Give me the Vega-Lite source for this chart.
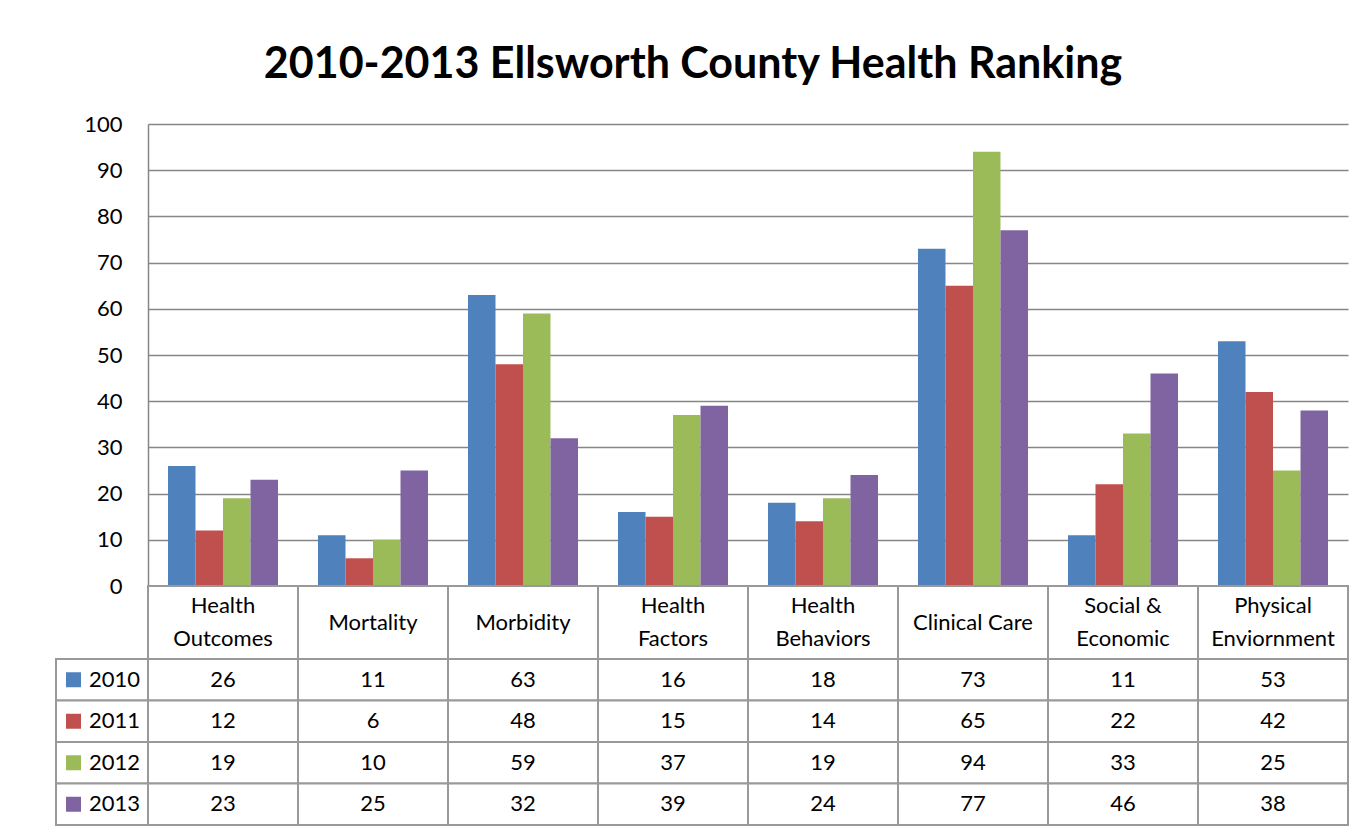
{
  "$schema": "https://vega.github.io/schema/vega-lite/v6.json",
  "background": "white",
  "padding": {"left": 55, "top": 44, "right": 0, "bottom": 0},
  "config": {"view": {"stroke": null}, "font": "Lato", "text": {"font": "Lato", "fontSize": 22, "color": "black"}},
  "title": {"text": "2010-2013 Ellsworth County Health Ranking", "font": "Lato", "fontSize": 43, "fontWeight": "bold", "color": "black", "anchor": "middle", "offset": 26, "dx": -9},
  "datasets": {
    "ranks": [
      {"category": "Health Outcomes", "year": "2010", "value": 26},
      {"category": "Health Outcomes", "year": "2011", "value": 12},
      {"category": "Health Outcomes", "year": "2012", "value": 19},
      {"category": "Health Outcomes", "year": "2013", "value": 23},
      {"category": "Mortality", "year": "2010", "value": 11},
      {"category": "Mortality", "year": "2011", "value": 6},
      {"category": "Mortality", "year": "2012", "value": 10},
      {"category": "Mortality", "year": "2013", "value": 25},
      {"category": "Morbidity", "year": "2010", "value": 63},
      {"category": "Morbidity", "year": "2011", "value": 48},
      {"category": "Morbidity", "year": "2012", "value": 59},
      {"category": "Morbidity", "year": "2013", "value": 32},
      {"category": "Health Factors", "year": "2010", "value": 16},
      {"category": "Health Factors", "year": "2011", "value": 15},
      {"category": "Health Factors", "year": "2012", "value": 37},
      {"category": "Health Factors", "year": "2013", "value": 39},
      {"category": "Health Behaviors", "year": "2010", "value": 18},
      {"category": "Health Behaviors", "year": "2011", "value": 14},
      {"category": "Health Behaviors", "year": "2012", "value": 19},
      {"category": "Health Behaviors", "year": "2013", "value": 24},
      {"category": "Clinical Care", "year": "2010", "value": 73},
      {"category": "Clinical Care", "year": "2011", "value": 65},
      {"category": "Clinical Care", "year": "2012", "value": 94},
      {"category": "Clinical Care", "year": "2013", "value": 77},
      {"category": "Social & Economic", "year": "2010", "value": 11},
      {"category": "Social & Economic", "year": "2011", "value": 22},
      {"category": "Social & Economic", "year": "2012", "value": 33},
      {"category": "Social & Economic", "year": "2013", "value": 46},
      {"category": "Physical Enviornment", "year": "2010", "value": 53},
      {"category": "Physical Enviornment", "year": "2011", "value": 42},
      {"category": "Physical Enviornment", "year": "2012", "value": 25},
      {"category": "Physical Enviornment", "year": "2013", "value": 38}
    ],
    "cats": [
      {"category": "Health Outcomes", "label": "Health|Outcomes"},
      {"category": "Mortality", "label": "Mortality"},
      {"category": "Morbidity", "label": "Morbidity"},
      {"category": "Health Factors", "label": "Health|Factors"},
      {"category": "Health Behaviors", "label": "Health|Behaviors"},
      {"category": "Clinical Care", "label": "Clinical Care"},
      {"category": "Social & Economic", "label": "Social &|Economic"},
      {"category": "Physical Enviornment", "label": "Physical|Enviornment"}
    ],
    "years": [
      {"year": "2010"}, {"year": "2011"}, {"year": "2012"}, {"year": "2013"}
    ]
  },
  "columns": 2,
  "bounds": "flush",
  "spacing": 0,
  "resolve": {"scale": {"x": "independent", "y": "independent"}},
  "concat": [
    {"width": 92, "height": 462, "data": {"values": [{"a": 1}]}, "mark": {"type": "text", "text": ""}, "encoding": {}},
    {
      "width": 1200, "height": 462,
      "data": {"name": "ranks"},
      "mark": {"type": "bar"},
      "encoding": {
        "x": {"field": "category", "type": "nominal", "scale": {"domain": ["Health Outcomes", "Mortality", "Morbidity", "Health Factors", "Health Behaviors", "Clinical Care", "Social & Economic", "Physical Enviornment"], "paddingInner": 0.26667, "paddingOuter": 0.13333}, "axis": null},
        "xOffset": {"field": "year", "type": "nominal", "scale": {"domain": ["2010", "2011", "2012", "2013"], "paddingInner": 0, "paddingOuter": 0}},
        "y": {"field": "value", "type": "quantitative", "scale": {"domain": [0, 100], "nice": false, "zero": true},
              "axis": {"values": [0, 10, 20, 30, 40, 50, 60, 70, 80, 90, 100], "title": null, "grid": true, "gridColor": "#868686", "gridWidth": 1.5, "domain": true, "domainColor": "#868686", "domainWidth": 1.5, "ticks": false, "labelPadding": 26, "labelFont": "Lato", "labelFontSize": 22, "labelColor": "black"}},
        "color": {"field": "year", "type": "nominal", "scale": {"domain": ["2010", "2011", "2012", "2013"], "range": ["#4F81BD", "#C0504D", "#9BBB59", "#8064A2"]}, "legend": null}
      }
    },
    {"width": 92, "height": 73, "data": {"values": [{"a": 1}]}, "mark": {"type": "text", "text": ""}, "encoding": {}},
    {
      "width": 1200, "height": 73,
      "data": {"name": "cats"},
      "encoding": {
        "x": {"field": "category", "type": "nominal", "scale": {"domain": ["Health Outcomes", "Mortality", "Morbidity", "Health Factors", "Health Behaviors", "Clinical Care", "Social & Economic", "Physical Enviornment"], "paddingInner": 0, "paddingOuter": 0}, "axis": null}
      },
      "layer": [
        {"mark": {"type": "rect", "fill": "white", "stroke": "#999999", "strokeWidth": 2}},
        {"transform": [{"filter": "indexof(datum.label, '|') >= 0"}], "mark": {"type": "text", "lineBreak": "|", "lineHeight": 33, "fontSize": 22, "baseline": "middle", "dy": -16.5}, "encoding": {"text": {"field": "label"}}},
        {"transform": [{"filter": "indexof(datum.label, '|') < 0"}], "mark": {"type": "text", "fontSize": 22, "baseline": "middle"}, "encoding": {"text": {"field": "label"}}}
      ]
    },
    {
      "width": 92, "height": 166,
      "data": {"name": "years"},
      "encoding": {
        "y": {"field": "year", "type": "nominal", "scale": {"domain": ["2010", "2011", "2012", "2013"], "paddingInner": 0, "paddingOuter": 0}, "axis": null}
      },
      "layer": [
        {"mark": {"type": "rect", "fill": "white", "stroke": "#999999", "strokeWidth": 2}},
        {"mark": {"type": "point", "shape": "square", "filled": true, "opacity": 1, "size": 225, "xOffset": -28.5}, "encoding": {"color": {"field": "year", "type": "nominal", "legend": null}}},
        {"mark": {"type": "text", "align": "left", "baseline": "middle", "dx": -13, "fontSize": 22}, "encoding": {"text": {"field": "year"}}}
      ]
    },
    {
      "width": 1200, "height": 166,
      "data": {"name": "ranks"},
      "encoding": {
        "x": {"field": "category", "type": "nominal", "scale": {"domain": ["Health Outcomes", "Mortality", "Morbidity", "Health Factors", "Health Behaviors", "Clinical Care", "Social & Economic", "Physical Enviornment"], "paddingInner": 0, "paddingOuter": 0}, "axis": null},
        "y": {"field": "year", "type": "nominal", "scale": {"domain": ["2010", "2011", "2012", "2013"], "paddingInner": 0, "paddingOuter": 0}, "axis": null}
      },
      "layer": [
        {"mark": {"type": "rect", "fill": "white", "stroke": "#999999", "strokeWidth": 2}},
        {"mark": {"type": "text", "baseline": "middle", "fontSize": 22}, "encoding": {"text": {"field": "value", "type": "quantitative"}}}
      ]
    }
  ]
}
